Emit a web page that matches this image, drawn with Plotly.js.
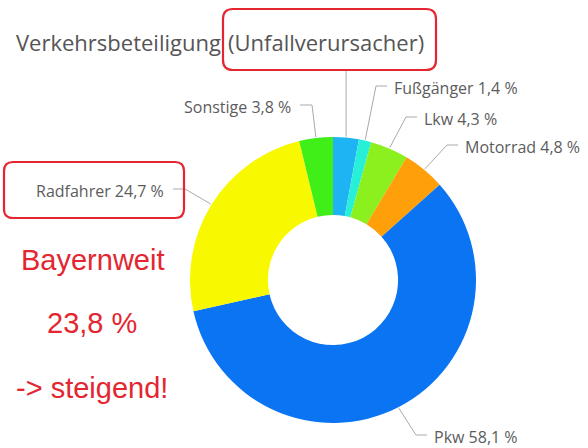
<!DOCTYPE html>
<html>
<head>
<meta charset="utf-8">
<script src="https://cdn.plot.ly/plotly-3.0.1.min.js"></script>
<style>html,body{margin:0;padding:0;background:#fff;}#chart{width:588px;height:448px;}</style>
</head>
<body>
<div id="chart"></div>
<script>
// ---- data ----
const categories = ['Bus', 'Fußgänger', 'Lkw', 'Motorrad', 'Pkw', 'Radfahrer', 'Sonstige'];
const shares = [2.9, 1.4, 4.3, 4.8, 58.1, 24.7, 3.8];
const showLabel = [false, true, true, true, true, true, true];
const titleMain = 'Verkehrsbeteiligung';
const titleSub = '(Unfallverursacher)';
const sideNotes = ['Bayernweit', '23,8 %', '-> steigend!'];

// ---- styles / layout ----
const W = 588, H = 448;
const CX = 333, CY = 280, R = 143, HOLE = 0.455;
const colors = ['#1eb4f4', '#28f0d8', '#8cf01e', '#ffa00a', '#0a74f2', '#f8f800', '#40ee18'];
const labelPos = [
  {top: 70},
  {x: 392, y: 88, side: 'r'},
  {x: 422, y: 119, side: 'r'},
  {x: 463, y: 147, side: 'r'},
  {x: 432, y: 437, side: 'r'},
  {x: 166, y: 191, side: 'l'},
  {x: 293, y: 107, side: 'l'}
];
const X = x => x / W;
const Y = y => 1 - y / H;
const fmt = v => v.toFixed(1).replace('.', ',') + ' %';
const labelFont = {family: 'Open Sans, sans-serif', size: 16, color: '#5c5c5c'};
const titleFont = {family: 'Open Sans, sans-serif', size: 22, color: '#555555'};
const red = '#e32630';

const total = shares.reduce((a, b) => a + b, 0);
let cum = 0;
const shapes = [];
const annotations = [];
shares.forEach((v, i) => {
  const th = 2 * Math.PI * (cum + v / 2) / total;
  cum += v;
  const ex = CX + (R + 1) * Math.sin(th);
  const ey = CY - (R + 1) * Math.cos(th);
  const p = labelPos[i];
  let path;
  if (p.top !== undefined) {
    path = `M ${X(ex)} ${Y(ey)} L ${X(ex)} ${Y(p.top)}`;
  } else {
    const ly = p.y - 2;
    const elbow = p.side === 'r' ? p.x - 16 : p.x + 19;
    const end = p.side === 'r' ? p.x - 5 : p.x + 7;
    path = `M ${X(ex)} ${Y(ey)} L ${X(elbow)} ${Y(ly)} L ${X(end)} ${Y(ly)}`;
  }
  shapes.push({type: 'path', xref: 'paper', yref: 'paper', path: path,
    line: {color: '#aaaaaa', width: 1}});
  if (showLabel[i]) {
    annotations.push({xref: 'paper', yref: 'paper', x: X(p.x), y: Y(p.y),
      xanchor: p.side === 'r' ? 'left' : 'right', yanchor: 'middle',
      text: categories[i] + ' ' + fmt(v), showarrow: false, font: labelFont});
  }
});

function roundRect(x0, y0, x1, y1, r) {
  return `M ${X(x0 + r)} ${Y(y0)} L ${X(x1 - r)} ${Y(y0)} Q ${X(x1)} ${Y(y0)} ${X(x1)} ${Y(y0 + r)} ` +
    `L ${X(x1)} ${Y(y1 - r)} Q ${X(x1)} ${Y(y1)} ${X(x1 - r)} ${Y(y1)} ` +
    `L ${X(x0 + r)} ${Y(y1)} Q ${X(x0)} ${Y(y1)} ${X(x0)} ${Y(y1 - r)} ` +
    `L ${X(x0)} ${Y(y0 + r)} Q ${X(x0)} ${Y(y0)} ${X(x0 + r)} ${Y(y0)} Z`;
}
shapes.push({type: 'path', xref: 'paper', yref: 'paper', path: roundRect(223, 9, 436, 70, 10),
  line: {color: red, width: 2.2}});
shapes.push({type: 'path', xref: 'paper', yref: 'paper', path: roundRect(4, 162, 184, 218, 9),
  line: {color: red, width: 2.2}});

annotations.push({xref: 'paper', yref: 'paper', x: X(14), y: Y(42), xanchor: 'left', yanchor: 'middle',
  text: titleMain, showarrow: false, font: titleFont});
annotations.push({xref: 'paper', yref: 'paper', x: X(226), y: Y(42), xanchor: 'left', yanchor: 'middle',
  text: titleSub, showarrow: false, font: titleFont});

const noteY = [260, 323, 388];
sideNotes.forEach((t, i) => {
  annotations.push({xref: 'paper', yref: 'paper', x: X(92), y: Y(noteY[i]), xanchor: 'center', yanchor: 'middle',
    text: t, showarrow: false, font: {family: 'Liberation Sans, Arial, sans-serif', size: 29, color: red}});
});

const trace = {
  type: 'pie',
  labels: categories,
  values: shares,
  sort: false,
  direction: 'clockwise',
  rotation: 0,
  hole: HOLE,
  textinfo: 'none',
  hoverinfo: 'none',
  marker: {colors: colors, line: {width: 0}},
  domain: {x: [X(CX - R), X(CX + R)], y: [Y(CY + R), Y(CY - R)]}
};

const layout = {
  width: W, height: H,
  margin: {l: 0, r: 0, t: 0, b: 0},
  paper_bgcolor: '#ffffff',
  showlegend: false,
  shapes: shapes,
  annotations: annotations
};
Plotly.newPlot('chart', [trace], layout, {displayModeBar: false, staticPlot: true});
</script>
</body>
</html>
